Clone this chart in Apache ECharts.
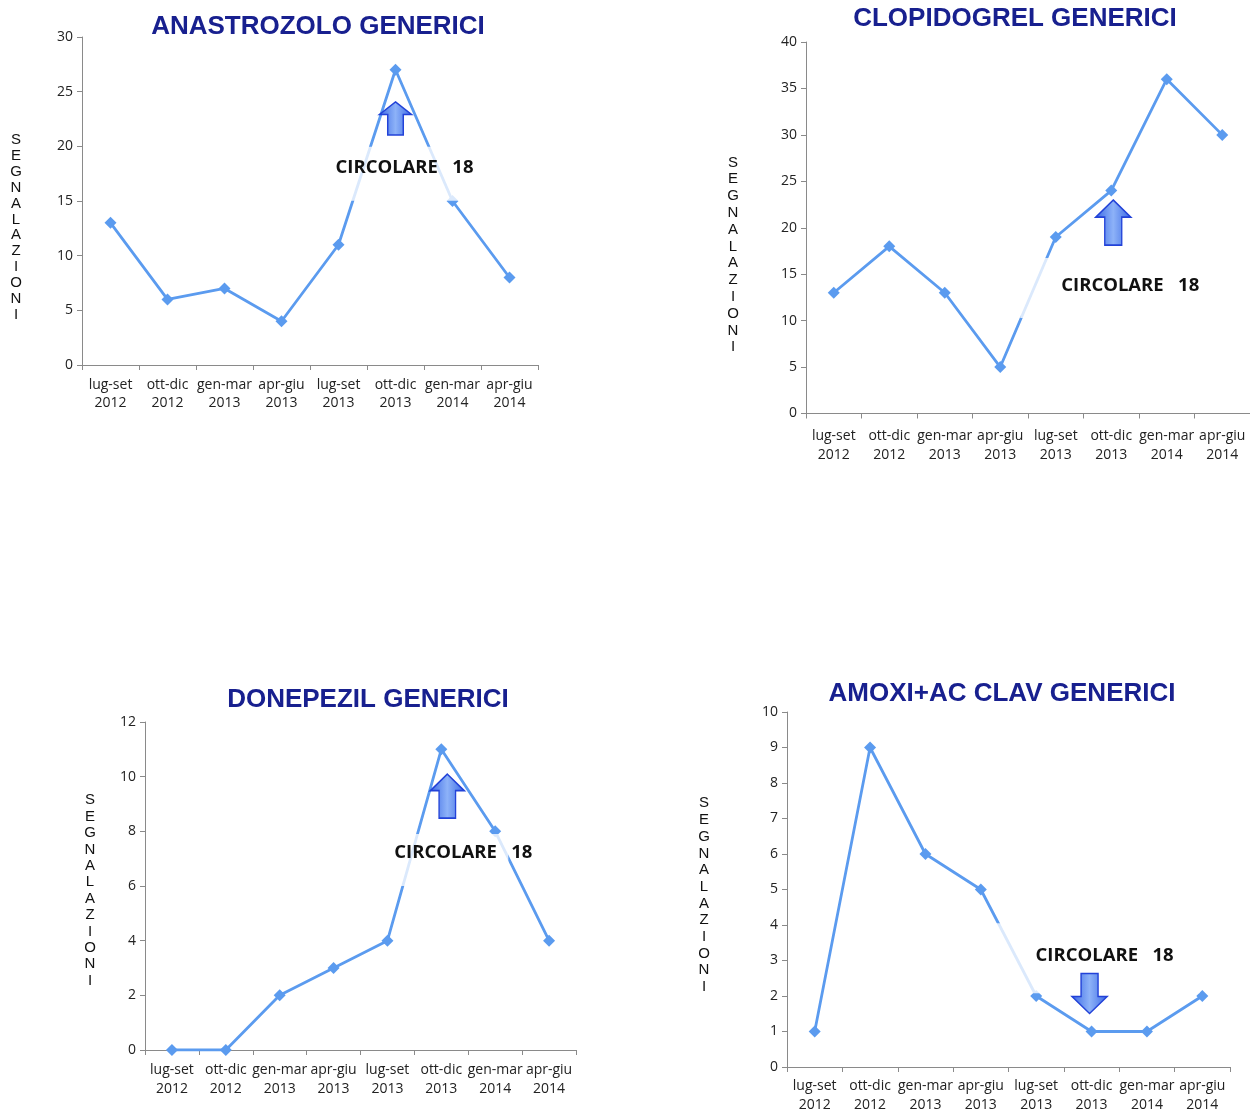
<!DOCTYPE html>
<html>
<head>
<meta charset="utf-8">
<script src="https://cdn.jsdelivr.net/npm/echarts@6/dist/echarts.min.js"></script>
<style>
  html, body { margin: 0; padding: 0; background: #fff; }
  #chart { width: 1250px; height: 1115px; }
</style>
</head>
<body>
<div id="chart"></div>
<script>
// quarters on the x axis
const categories = [
  "lug-set\n2012", "ott-dic\n2012", "gen-mar\n2013", "apr-giu\n2013",
  "lug-set\n2013", "ott-dic\n2013", "gen-mar\n2014", "apr-giu\n2014",
];

// segnalazioni per quarter
const anastrozolo = [13, 6, 7, 4, 11, 27, 15, 8];
const clopidogrel = [13, 18, 13, 5, 19, 24, 36, 30];
const donepezil = [0, 0, 2, 3, 4, 11, 8, 4];
const amoxiClav = [1, 9, 6, 5, 2, 1, 1, 2];

const titles = ["ANASTROZOLO GENERICI", "CLOPIDOGREL GENERICI", "DONEPEZIL GENERICI", "AMOXI+AC CLAV GENERICI"];
const yMax = [30, 40, 12, 10];
const yStep = [5, 5, 2, 1];
const yName = "SEGNALAZIONI";
const noteText = "CIRCOLARE   18";
const noteAt = "ott-dic\n2013";

const LINE = "#5b9bef";
const NAVY = "#18208f";
const AXIS = "#8a8a8a";
const TICK_FONT = "'Open Sans', sans-serif";

const ARROW_UP = "path://M17.5,0 L35,17 L26,17 L26,45 L9,45 L9,17 L0,17 Z";
const ARROW_DOWN = "path://M0,23 L9,23 L9,0 L26,0 L26,23 L35,23 L17.5,40 Z";

// panel layout + the "circolare" note (y in data units, dx in px from the ott-dic 2013 slot)
const panels = [
  {
    data: anastrozolo,
    grid: { left: 82, top: 37, width: 456, height: 328 },
    titleX: 318, titleY: 27, labX: 16, labTop: 132, labLh: 15.9, margin: 11, lh: 18,
    box: { y: 17.5, dx: 11, size: [145, 54] },
    text: { y: 18.07, dx: 9 },
    arrow: { y: 22.55, dx: 0, size: [32, 33], path: ARROW_UP },
  },
  {
    data: clopidogrel,
    grid: { left: 806, top: 42, width: 444, height: 371.5 },
    titleX: 1015, titleY: 18.5, labX: 733, labTop: 154, labLh: 16.8, margin: 13, lh: 19,
    box: { y: 13.5, dx: 3, size: [188, 60] },
    text: { y: 13.72, dx: 19 },
    arrow: { y: 20.56, dx: 2, size: [35, 45], path: ARROW_UP },
  },
  {
    data: donepezil,
    grid: { left: 145, top: 722, width: 431, height: 328 },
    titleX: 368, titleY: 700, labX: 90, labTop: 792, labLh: 16.4, margin: 11, lh: 19,
    box: { y: 6.95, dx: 11, size: [112, 52] },
    text: { y: 7.2, dx: 22 },
    arrow: { y: 9.29, dx: 6, size: [34, 44], path: ARROW_UP },
  },
  {
    data: amoxiClav,
    grid: { left: 787, top: 712, width: 443, height: 357 },
    titleX: 1002, titleY: 694, labX: 704, labTop: 795, labLh: 16.7, margin: 10, lh: 19,
    box: { y: 3.06, dx: 3, size: [210, 70] },
    text: { y: 3.13, dx: 13 },
    arrow: { y: 2.07, dx: -2, size: [35, 40], path: ARROW_DOWN },
  },
];

const arrowFill = {
  type: "linear", x: 0, y: 0, x2: 1, y2: 0,
  colorStops: [
    { offset: 0, color: "#3a68e4" },
    { offset: 0.5, color: "#8db2f8" },
    { offset: 1, color: "#3a68e4" },
  ],
};

const chart = echarts.init(document.getElementById("chart"));

const graphic = [];
panels.forEach((p, i) => {
  graphic.push({
    type: "text",
    x: p.titleX, y: p.titleY,
    style: {
      text: titles[i], fill: NAVY, align: "center", verticalAlign: "middle",
      font: "bold 26px 'Liberation Sans', Arial, sans-serif",
    },
  });
  graphic.push({
    type: "text",
    x: p.labX, y: p.labTop,
    style: {
      text: yName.split("").join("\n"), fill: "#111", align: "center", verticalAlign: "top",
      font: "15px 'Liberation Sans', Arial, sans-serif", lineHeight: p.labLh,
    },
  });
});

chart.setOption({
  animation: false,
  graphic,
  grid: panels.map((p) => ({ ...p.grid, containLabel: false })),
  xAxis: panels.map((p, i) => ({
    type: "category",
    gridIndex: i,
    data: categories,
    boundaryGap: true,
    axisLine: { lineStyle: { color: AXIS, width: 1 } },
    axisTick: { show: true, length: 5, lineStyle: { color: AXIS } },
    axisLabel: {
      interval: 0, margin: p.margin, color: "#222",
      fontFamily: TICK_FONT, fontSize: 14, lineHeight: p.lh,
    },
    splitLine: { show: false },
  })),
  yAxis: panels.map((p, i) => ({
    type: "value",
    gridIndex: i,
    min: 0,
    max: yMax[i],
    interval: yStep[i],
    axisLine: { show: true, lineStyle: { color: AXIS, width: 1 } },
    axisTick: { show: true, length: 5, lineStyle: { color: AXIS } },
    axisLabel: { margin: 9, color: "#222", fontFamily: TICK_FONT, fontSize: 14 },
    splitLine: { show: false },
  })),
  series: panels.map((p, i) => ({
    type: "line",
    xAxisIndex: i,
    yAxisIndex: i,
    data: p.data,
    symbol: "diamond",
    symbolSize: 12,
    showAllSymbol: true,
    lineStyle: { color: LINE, width: 2.8 },
    itemStyle: { color: LINE },
    markPoint: {
      silent: true,
      data: [
        {
          coord: [noteAt, p.box.y], symbol: "rect", symbolSize: p.box.size,
          symbolOffset: [p.box.dx, 0],
          itemStyle: { color: "rgba(255,255,255,0.78)" },
          label: { show: false },
        },
        {
          coord: [noteAt, p.text.y], symbol: "rect", symbolSize: [1, 1],
          itemStyle: { color: "rgba(255,255,255,0)" },
          label: {
            show: true, position: "inside", offset: [p.text.dx, 0],
            formatter: noteText, color: "#111",
            fontFamily: "'Open Sans', sans-serif", fontWeight: "bold", fontSize: 18.5,
          },
        },
        {
          coord: [noteAt, p.arrow.y], symbol: p.arrow.path, symbolSize: p.arrow.size,
          symbolOffset: [p.arrow.dx, 0],
          itemStyle: { color: arrowFill, borderColor: "#2242d8", borderWidth: 1.5 },
          label: { show: false },
        },
      ],
    },
  })),
});
</script>
</body>
</html>
